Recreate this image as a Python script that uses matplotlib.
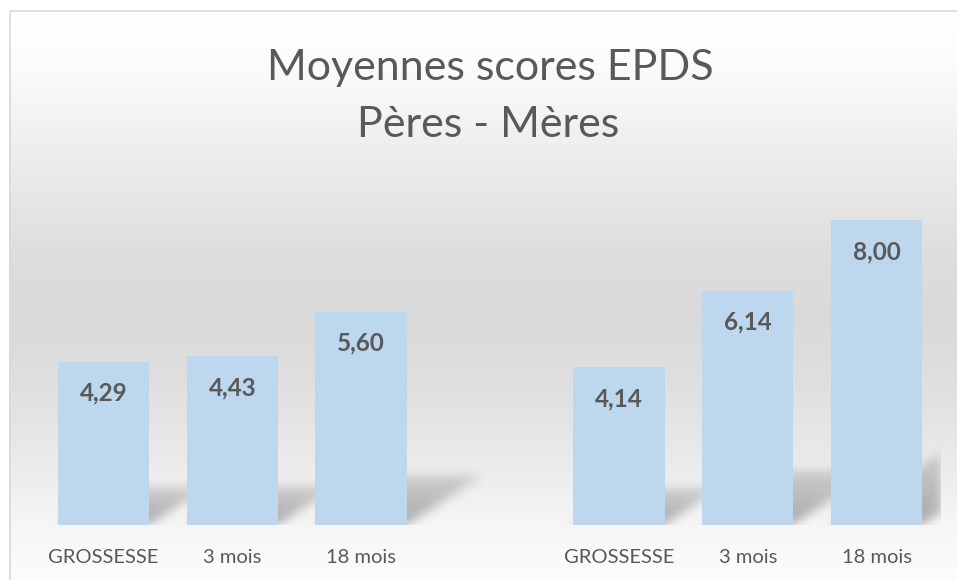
import numpy as np
import matplotlib.pyplot as plt
from matplotlib.lines import Line2D

plt.rcParams['font.family'] = ['Lato', 'DejaVu Sans']

categories = ["GROSSESSE", "3 mois", "18 mois", "GROSSESSE", "3 mois", "18 mois"]
positions = [0, 1, 2, 4, 5, 6]   # empty slot at 3 splits pères / mères
values = [4.29, 4.43, 5.60, 4.14, 6.14, 8.00]

W, H = 957, 580
txt_col = '#595959'
bar_col = '#bdd7ee'
bar_w = 0.71

fig = plt.figure(figsize=(W / 100, H / 100), dpi=100)

# background gradient over the whole chart area
bg = fig.add_axes([0, 0, 1, 1], zorder=-5)
stops_y = [0, 11, 60, 150, 250, 320, 400, 470, 530, 580]
stops_v = [255, 255, 252, 238, 222, 217, 225, 236, 247, 252]
yy = np.arange(H)
grey = np.interp(yy, stops_y, stops_v) / 255.0
img = np.repeat(grey[:, None], W, axis=1)
img[:11, :] = 1.0
img[:, :9] = 1.0
bg.imshow(np.dstack([img, img, img]), extent=[0, W, H, 0], aspect='auto')
bg.set_xlim(0, W)
bg.set_ylim(H, 0)
bg.axis('off')

# chart border (left and top only, the rest is cut off)
fig.add_artist(Line2D([9.5 / W, 9.5 / W, 1], [0, 1 - 11 / H, 1 - 11 / H],
                      transform=fig.transFigure, color='#d9d9d9', lw=1.2))

# plot area
x0, x1 = 39, 941
yb, yt = 525, 200
ax = fig.add_axes([x0 / W, 1 - yb / H, (x1 - x0) / W, (yb - yt) / H])
ax.set_facecolor('none')
ymax = 8.53

# perspective shadows, blurred
px_x = (x1 - x0) / 7.0
px_y = (yb - yt) / ymax
skew = 1.54 * px_y / px_x
gx = np.linspace(-0.5, 6.5, 902)
gy = np.linspace(-0.2, 2.6, int(2.8 * px_y))
X, Y = np.meshgrid(gx, gy)
sh = np.zeros_like(X)
for p, v in zip(positions, values):
    hs = 0.23 * v
    xs = X - skew * Y
    m = (Y >= 0) & (Y <= hs) & (xs >= p - bar_w / 2) & (xs <= p + bar_w / 2)
    sh = np.maximum(sh, m * (1 - 0.55 * Y / hs))


def blur(a, sigma):
    r = int(3 * sigma)
    k = np.exp(-0.5 * (np.arange(-r, r + 1) / sigma) ** 2)
    k /= k.sum()
    a = np.apply_along_axis(lambda c: np.convolve(c, k, mode='same'), 0, a)
    a = np.apply_along_axis(lambda c: np.convolve(c, k, mode='same'), 1, a)
    return a


sh = blur(sh, 5)
rgba = np.zeros(sh.shape + (4,))
rgba[..., :3] = 0.3
rgba[..., 3] = 0.45 * sh
ax.imshow(rgba, extent=[-0.5, 6.5, -0.2, 2.6], origin='lower', aspect='auto',
          zorder=1, interpolation='bilinear')

ax.bar(positions, values, width=bar_w, color=bar_col, zorder=2)
for p, v in zip(positions, values):
    ax.annotate(f"{v:.2f}".replace(".", ","), (p, v), xytext=(0, -22.5),
                textcoords='offset points', ha='center', va='center',
                fontsize=17.5, fontweight='bold', color=txt_col, zorder=3)

ax.set_xlim(-0.5, 6.5)
ax.set_ylim(0, ymax)
ax.set_xticks(positions)
ax.set_xticklabels(categories, fontsize=14.5, color=txt_col)
ax.tick_params(axis='x', length=0, pad=17)
ax.set_yticks([])
for s in ax.spines.values():
    s.set_visible(False)

fig.text(490 / W, 1 - 68 / H, "Moyennes scores EPDS", ha='center', va='center',
         fontsize=31, color=txt_col)
fig.text(488 / W, 1 - 125 / H, "Pères - Mères", ha='center', va='center',
         fontsize=31, color=txt_col)

fig.savefig('out.png', dpi=100)
